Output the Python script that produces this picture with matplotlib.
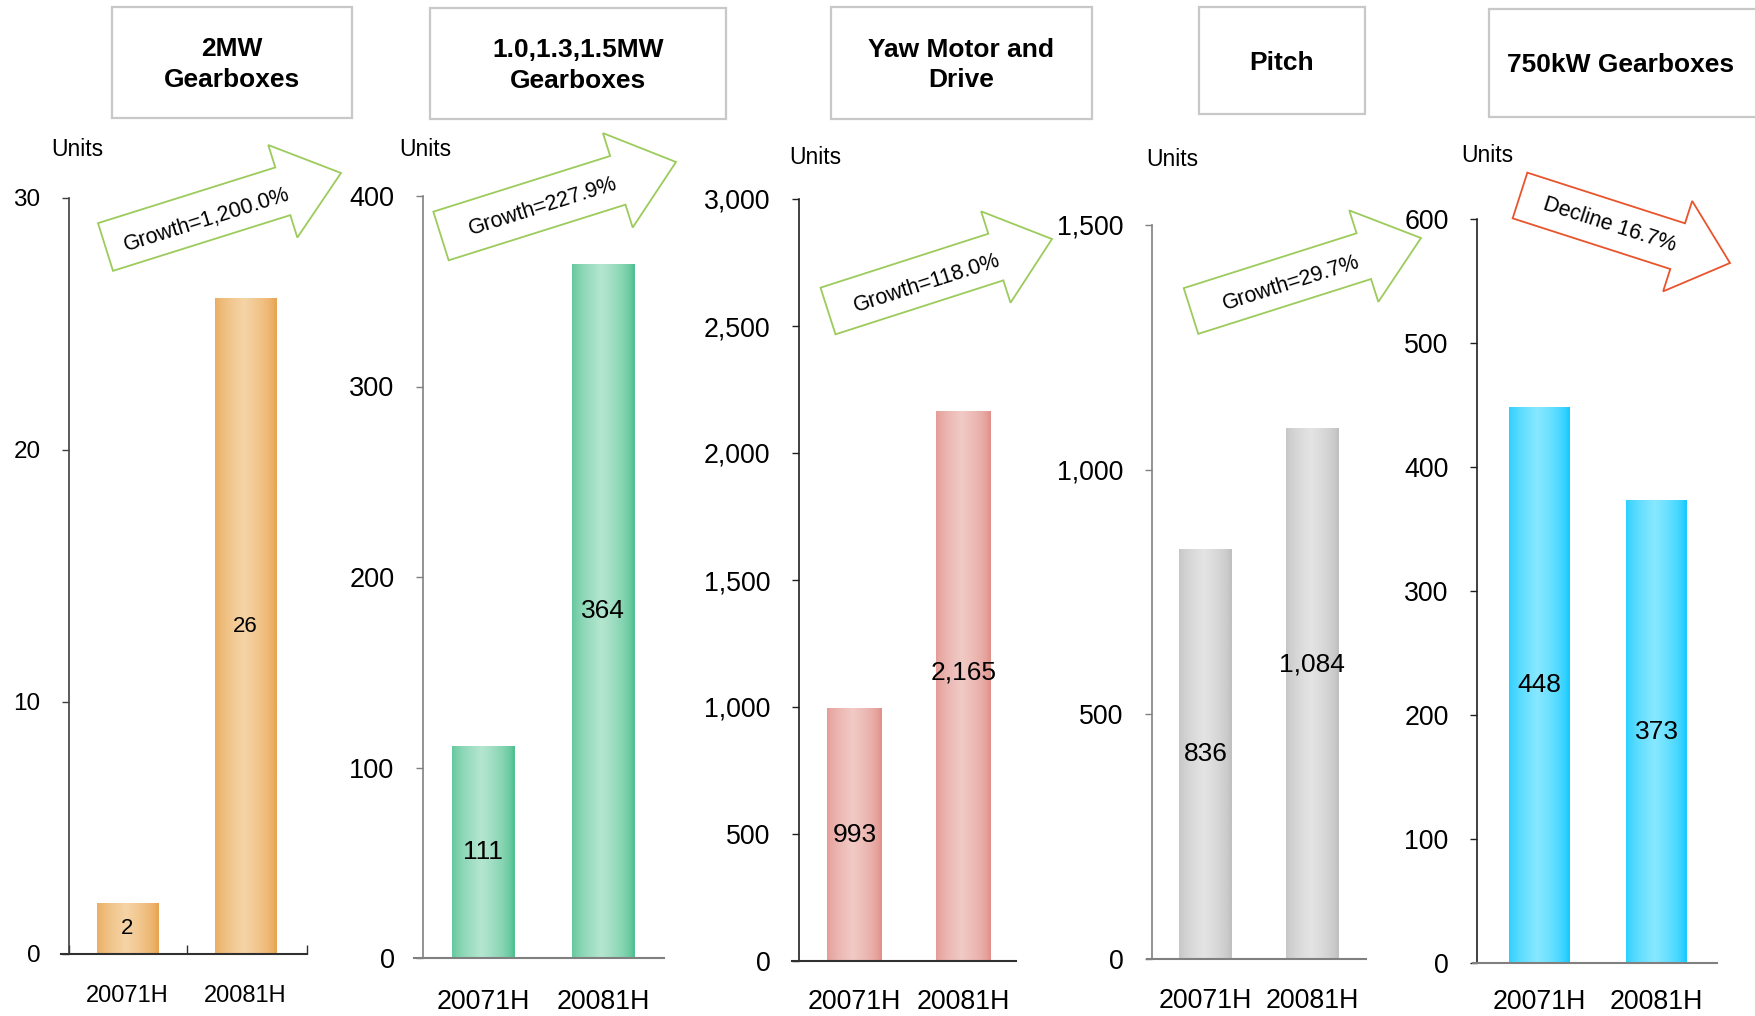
import matplotlib
matplotlib.use("Agg")
import matplotlib.pyplot as plt
import numpy as np
from matplotlib.patches import Polygon, Rectangle
from matplotlib.ticker import FuncFormatter

plt.rcParams["font.family"] = ["Liberation Sans", "DejaVu Sans"]

W, H = 1755, 1016

# ---- data -------------------------------------------------------------
titles = ["2MW\nGearboxes", "1.0,1.3,1.5MW\nGearboxes", "Yaw Motor and\nDrive",
          "Pitch", "750kW Gearboxes"]
periods = ["20071H", "20081H"]
units_1h07 = [2, 111, 993, 836, 448]
units_1h08 = [26, 364, 2165, 1084, 373]
change_text = ["Growth=1,200.0%", "Growth=227.9%", "Growth=118.0%",
               "Growth=29.7%", "Decline 16.7%"]
y_max = [30, 400, 3000, 1500, 600]
y_step = [10, 100, 500, 500, 100]

# ---- styling / layout (pixels) ---------------------------------------
bar_colors = [("#E8A552", "#F5D4A6"), ("#52C192", "#B5E6D0"), ("#E2928C", "#F1CAC6"),
              ("#C0C0C0", "#E4E4E4"), ("#17CAFF", "#88E8FF")]
# axis line left/right, y spine x, bar centres, bar width, top tick y, zero y
layout = [
    dict(xl=61, xr=307, spine=69, ca=127.5, cb=245.5, bw=62, top=198, bottom=954),
    dict(xl=414, xr=664, spine=423, ca=483, cb=603, bw=63, top=196, bottom=958),
    dict(xl=792, xr=1016, spine=799, ca=854.5, cb=963.5, bw=55, top=199, bottom=961),
    dict(xl=1147, xr=1366, spine=1152, ca=1205.5, cb=1312, bw=53, top=225, bottom=959),
    dict(xl=1473, xr=1717, spine=1477, ca=1539, cb=1656.5, bw=61, top=219, bottom=963),
]
spine_col = ["#404040", "#808080", "#202020", "#808080", "#202020"]
axis_col = ["#303030", "#808080", "#303030", "#808080", "#808080"]
tick_fs = [17.5, 19.5, 19.3, 19.3, 19.3]
cat_fs = [17, 19.3, 19.3, 19.3, 19.3]
cat_pad = [22, 22, 20.5, 21, 19]
val_fs = [16, 19, 19, 19, 19]
# where the value label sits, as a fraction of the bar height
label_frac = [(0.5, 0.5), (0.5, 0.5), (0.5, 0.525), (0.5, 0.555), (0.5, 0.5)]

title_boxes = [(112, 7, 352, 118), (430, 8, 726, 119), (831, 7, 1092, 119),
               (1199, 7, 1365, 114), (1489, 9, 1762, 117)]
units_pos = [(77, 149), (425, 150), (815, 158), (1172, 160), (1487, 156)]
# tail centre, tip, shaft width, head width, head length, text centre
arrows = [
    ((105.5, 247), (341, 173), 50, 97, 61, (207, 220)),
    ((441, 236), (676, 162), 51, 99, 61, (543, 207)),
    ((828, 311), (1052, 239), 49, 96, 59, (927, 283)),
    ((1191, 311), (1421, 238), 48, 96, 60, (1291, 283)),
    ((1520, 195.5), (1730, 263), 48, 95, 55, (1610, 225)),
]
arrow_col = ["#9CCB5C"] * 4 + ["#E8542C"]


def gradient(edge, centre, n=256):
    t = np.linspace(0, 1, n)
    w = np.clip(1 - np.abs(t - 0.47) / 0.5, 0, 1) ** 0.6
    e = np.array(matplotlib.colors.to_rgb(edge))
    c = np.array(matplotlib.colors.to_rgb(centre))
    return (e[None, :] * (1 - w[:, None]) + c[None, :] * w[:, None])[None, :, :]


def arrow_poly(tail, tip, sw, hw, hl):
    tail, tip = np.array(tail, float), np.array(tip, float)
    u = (tip - tail) / np.linalg.norm(tip - tail)
    n = np.array([-u[1], u[0]])
    base = tip - u * hl
    return np.array([tail + n * sw / 2, base + n * sw / 2, base + n * hw / 2, tip,
                     base - n * hw / 2, base - n * sw / 2, tail - n * sw / 2])


fig = plt.figure(figsize=(W / 100, H / 100), dpi=100)
fig.patch.set_facecolor("white")

for k, L in enumerate(layout):
    d = L["cb"] - L["ca"]
    ax = fig.add_axes([L["xl"] / W, 1 - L["bottom"] / H,
                       (L["xr"] - L["xl"]) / W, (L["bottom"] - L["top"]) / H])
    ax.patch.set_alpha(0)
    vals = [units_1h07[k], units_1h08[k]]
    bars = ax.bar([0, 1], vals, width=L["bw"] / d, color="none", zorder=2)
    grad = gradient(*bar_colors[k])
    for b, v, f in zip(bars, vals, label_frac[k]):
        x, w, h = b.get_x(), b.get_width(), b.get_height()
        ax.imshow(grad, extent=(x, x + w, 0, h), aspect="auto", zorder=2,
                  interpolation="bilinear")
        ax.text(x + w / 2, h * f, f"{v:,}", ha="center", va="center",
                fontsize=val_fs[k], color="black", zorder=3)

    x0 = (L["xl"] - L["ca"]) / d
    x1 = (L["xr"] - L["ca"]) / d
    ax.set_xlim(x0, x1)
    ax.set_ylim(0, y_max[k])

    for s in ("top", "right"):
        ax.spines[s].set_visible(False)
    ax.spines["left"].set_position(("axes", (L["spine"] - L["xl"]) / (L["xr"] - L["xl"])))
    ax.spines["left"].set_color(spine_col[k])
    ax.spines["left"].set_linewidth(1.2)
    ax.spines["bottom"].set_color(axis_col[k])
    ax.spines["bottom"].set_linewidth(1.5)

    ax.set_yticks(np.arange(0, y_max[k] + 1, y_step[k]))
    ax.yaxis.set_major_formatter(FuncFormatter(lambda v, p: f"{v:,.0f}"))
    ax.tick_params(axis="y", direction="out", length=5, width=1,
                   color=spine_col[k], pad=15.5, labelsize=tick_fs[k])
    ax.set_xticks([0, 1], periods)
    ax.tick_params(axis="x", length=0, pad=cat_pad[k], labelsize=cat_fs[k])
    if k == 0:
        sx = (L["spine"] - L["ca"]) / d
        ax.set_xticks([sx, 0.5, x1], minor=True)
        ax.tick_params(axis="x", which="minor", direction="in", length=6.5,
                       width=1, color=axis_col[k])

# overlay in pixel coordinates for the headers and change arrows
ov = fig.add_axes([0, 0, 1, 1], zorder=10)
ov.set_xlim(0, W)
ov.set_ylim(H, 0)
ov.axis("off")

for (bx0, by0, bx1, by1), t in zip(title_boxes, titles):
    ov.add_patch(Rectangle((bx0, by0), bx1 - bx0, by1 - by0, facecolor="white",
                           edgecolor="#C8C8C8", linewidth=1.6))
    cx = (bx0 + bx1) / 2 if bx1 <= W else 1621
    ov.text(cx, (by0 + by1) / 2 + 2, t, ha="center", va="center", fontsize=19,
            fontweight="bold", linespacing=1.33)

for (ux, uy) in units_pos:
    ov.text(ux, uy, "Units", ha="center", va="center", fontsize=16.5)

for (tail, tip, sw, hw, hl, tc), txt, col in zip(arrows, change_text, arrow_col):
    ov.add_patch(Polygon(arrow_poly(tail, tip, sw, hw, hl), closed=True,
                         facecolor="white", edgecolor=col, linewidth=1.3))
    ang = -np.degrees(np.arctan2(tip[1] - tail[1], tip[0] - tail[0]))
    ov.text(tc[0], tc[1], txt, ha="center", va="center", rotation=ang,
            rotation_mode="anchor", fontsize=15.5)

fig.savefig("out.png", dpi=100, facecolor="white")
